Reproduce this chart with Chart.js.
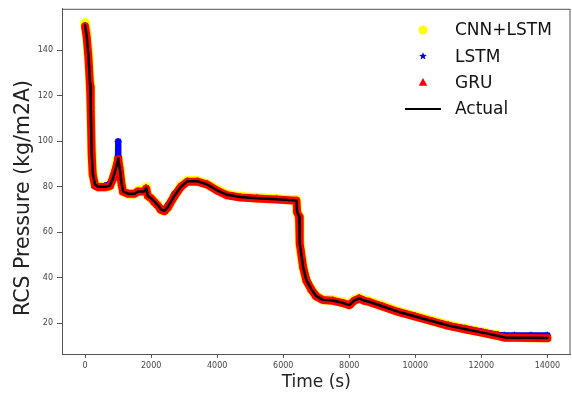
<!DOCTYPE html>
<html>
<head>
<meta charset="utf-8">
<script src="https://cdn.jsdelivr.net/npm/chart.js@4"></script>
<style>
  html, body { margin: 0; padding: 0; background: #fff; overflow: hidden; }
  #chart { display: block; }
</style>
</head>
<body>
<!-- a bit wider than the window: chart.js keeps ~6px right of the plot for the last tick label -->
<canvas id="chart" width="576" height="394"></canvas>
<script>
// time axis (s) and pressure values
const timeS = [0, 50, 100, 150, 170, 200, 230, 300, 400, 600,
  750, 850, 950, 990, 1000, 1010, 1050, 1100, 1150, 1300, 1500, 1600,
  1800, 1850, 1900, 2000, 2100, 2200, 2300, 2400, 2500, 2700,
  2900, 3100, 3400, 3700, 4000, 4300, 4700, 5200, 5800, 6400,
  6420, 6480, 6500, 6530, 6600, 6700, 6850, 7000, 7200, 7500,
  7800, 8000, 8150, 8300, 8450, 8600, 9000, 9500, 10000, 10500,
  11000, 11500, 12000, 12500, 12700, 13000, 13500, 14000];

const actual = [151, 146, 138, 125, 115, 95, 86, 81, 80, 80,
  80.5, 84, 89, 91.5, 92.5, 91.5, 88, 82, 78, 77, 77, 78,
  78, 79.5, 76, 75, 73.5, 72, 70, 69.5, 71, 76,
  80, 82.5, 82.5, 81, 78.5, 76.5, 75.5, 75, 74.5, 74,
  69, 67, 55, 52, 45, 39, 35, 32, 30.3, 30,
  29, 28, 30, 31, 30, 29.5, 27.5, 25, 23, 21,
  19, 17.5, 16, 14.5, 13.8, 13.7, 13.6, 13.5];

const gru = [150.5, 145.5, 137, 124, 114, 94, 85.5, 80.5, 79.8, 79.8,
  80.3, 83.8, 89, 91.3, 92, 91.3, 87.5, 81.5, 77.8, 77, 77, 78,
  78, 79.2, 76, 75, 73.3, 71.8, 69.8, 69.3, 70.8, 75.8,
  80, 82.3, 82.3, 81, 78.3, 76.3, 75.3, 74.9, 74.4, 73.9,
  69, 66.8, 55, 52, 44.8, 38.8, 34.8, 31.8, 30.2, 29.9,
  28.9, 27.9, 29.9, 30.9, 29.9, 29.4, 27.4, 24.9, 22.9, 20.9,
  18.9, 17.4, 15.9, 14.4, 13.7, 13.6, 13.5, 13.4];

const lstm = [151, 146, 138, 125, 115, 95, 86, 81, 80.3, 80.5,
  81.3, 85, 90, 93, 100, 93, 88.5, 82, 78, 77, 77, 78,
  78, 79.5, 76, 75, 73.5, 72, 70.5, 70, 71.8, 76.8,
  80.3, 82.5, 82.5, 81, 78.5, 76.5, 75.5, 75, 74.5, 74,
  69, 67, 55, 52.5, 45.8, 40, 35.3, 32.2, 30.4, 30.1,
  29.1, 28.1, 30.1, 31.1, 30.1, 29.6, 27.6, 25.1, 23.1, 21.1,
  19.2, 17.8, 16.4, 15, 14.7, 14.7, 14.7, 14.7];

const cnnLstm = [152, 146.5, 138.5, 125, 115, 95, 86, 81, 80, 80,
  80.5, 84, 89, 91.5, 92.5, 91.5, 88, 82, 78, 77, 77, 78.2,
  78.2, 79.8, 76, 75, 73.5, 72, 70, 69.5, 71, 76,
  80.2, 82.7, 82.7, 81.2, 78.7, 76.7, 75.7, 75.2, 74.7, 74.2,
  69, 67, 55, 52, 45, 39, 35, 32, 30.5, 30.2,
  29.2, 28.2, 30.2, 31.2, 30.2, 29.7, 27.7, 25.2, 23.2, 21.2,
  19.2, 17.7, 16.2, 14.7, 14, 13.9, 13.8, 13.8];

const xTicks = [0, 2000, 4000, 6000, 8000, 10000, 12000, 14000];
const yTicks = [20, 40, 60, 80, 100, 120, 140];

const FONT = "'DejaVu Sans', sans-serif";

function pts(vals) {
  return timeS.map((t, i) => ({ x: t, y: vals[i] }));
}

// simple marker drawing for the legend
function drawMarker(ctx, style, x, y, r, color) {
  ctx.save();
  ctx.fillStyle = color;
  ctx.strokeStyle = color;
  ctx.lineWidth = 1.2;
  ctx.beginPath();
  if (style === 'circle') {
    ctx.arc(x, y, r, 0, Math.PI * 2);
    ctx.fill();
  } else if (style === 'triangle') {
    ctx.moveTo(x, y - r);
    ctx.lineTo(x + r * 0.95, y + r * 0.7);
    ctx.lineTo(x - r * 0.95, y + r * 0.7);
    ctx.closePath();
    ctx.fill();
  } else if (style === 'star') {
    for (let k = 0; k < 5; k++) {
      let a = -Math.PI / 2 + k * Math.PI * 2 / 5;
      let b = a + Math.PI / 5;
      ctx.lineTo(x + r * Math.cos(a), y + r * Math.sin(a));
      ctx.lineTo(x + r * 0.45 * Math.cos(b), y + r * 0.45 * Math.sin(b));
    }
    ctx.closePath();
    ctx.fill();
  } else if (style === 'line') {
    ctx.lineWidth = 2;
    ctx.moveTo(x - 18, y);
    ctx.lineTo(x + 18, y);
    ctx.stroke();
  }
  ctx.restore();
}

const legendItems = [
  { label: 'CNN+LSTM', style: 'circle', color: '#ffff00', r: 4.5 },
  { label: 'LSTM', style: 'star', color: '#0000ff', r: 4 },
  { label: 'GRU', style: 'triangle', color: '#ff0000', r: 4.5 },
  { label: 'Actual', style: 'line', color: '#000000', r: 0 }
];

const framePlugin = {
  id: 'frame',
  afterDraw(chart) {
    const { ctx, chartArea: a } = chart;
    ctx.save();
    ctx.strokeStyle = '#555';
    ctx.lineWidth = 1;
    ctx.strokeRect(a.left + 0.5, a.top + 0.5, a.right - a.left - 1, a.bottom - a.top);
    // y axis title, sits a bit below the middle of the plot
    ctx.save();
    ctx.translate(24, 198);
    ctx.rotate(-Math.PI / 2);
    ctx.fillStyle = '#222';
    ctx.font = '20.5px ' + FONT;
    ctx.textAlign = 'center';
    ctx.textBaseline = 'middle';
    ctx.fillText('RCS Pressure (kg/m2A)', 0, 0);
    ctx.restore();
    // legend, upper right, no box
    legendItems.forEach((it, i) => {
      const y = 30 + i * 26.3;
      drawMarker(ctx, it.style, 423, y, it.r, it.color);
      ctx.fillStyle = '#111';
      ctx.font = '17px ' + FONT;
      ctx.textBaseline = 'middle';
      ctx.textAlign = 'left';
      ctx.fillText(it.label, 455, y + 1);
    });
    ctx.restore();
  }
};

const tickFont = { family: FONT, size: 8 };

new Chart(document.getElementById('chart'), {
  type: 'scatter',
  data: {
    datasets: [
      {
        label: 'Actual', data: pts(actual), showLine: true, order: 0,
        borderColor: '#000', borderWidth: 2.5, pointRadius: 0,
        borderJoinStyle: 'round', borderCapStyle: 'round'
      },
      {
        label: 'GRU', data: pts(gru), showLine: true, order: 1,
        borderColor: '#ff0000', borderWidth: 8, pointStyle: 'triangle',
        pointRadius: 4, pointBorderWidth: 1, backgroundColor: '#ff0000', pointBorderColor: '#ff0000',
        borderJoinStyle: 'round', borderCapStyle: 'round'
      },
      {
        label: 'LSTM', data: pts(lstm), showLine: true, order: 2,
        borderColor: '#0000ff', borderWidth: 6, pointStyle: 'star',
        pointRadius: 3.5, pointBorderWidth: 1.5, backgroundColor: '#0000ff', pointBorderColor: '#0000ff',
        borderJoinStyle: 'round', borderCapStyle: 'round'
      },
      {
        label: 'CNN+LSTM', data: pts(cnnLstm), showLine: true, order: 3,
        borderColor: '#ffff00', borderWidth: 9.5, pointStyle: 'circle',
        pointRadius: 4.5, pointBorderWidth: 1, backgroundColor: '#ffff00', pointBorderColor: '#ffff00',
        borderJoinStyle: 'round', borderCapStyle: 'round'
      }
    ]
  },
  options: {
    responsive: false,
    animation: false,
    devicePixelRatio: 1,
    layout: { padding: { top: 7, right: 0, left: 0, bottom: 0 } },
    plugins: { legend: { display: false }, tooltip: { enabled: false } },
    scales: {
      x: {
        type: 'linear', min: -700, max: 14700,
        afterBuildTicks: s => { s.ticks = xTicks.map(v => ({ value: v })); },
        afterFit: s => { s.height = 40; },
        grid: { drawOnChartArea: false, tickLength: 4, color: '#555' },
        border: { color: '#555' },
        ticks: { font: tickFont, color: '#444', padding: 3, maxRotation: 0, autoSkip: false,
          callback: v => String(v) },
        title: { display: true, text: 'Time (s)', color: '#222',
          font: { family: FONT, size: 17 }, padding: { top: 0, bottom: 1 } }
      },
      y: {
        type: 'linear', min: 6.5, max: 158.3,
        afterBuildTicks: s => { s.ticks = yTicks.map(v => ({ value: v })); },
        afterFit: s => { s.width = 62; },
        grid: { drawOnChartArea: false, tickLength: 5, color: '#555' },
        border: { color: '#555' },
        ticks: { font: tickFont, color: '#444', padding: 4, callback: v => String(v) }
      }
    }
  },
  plugins: [framePlugin]
});
</script>
</body>
</html>
